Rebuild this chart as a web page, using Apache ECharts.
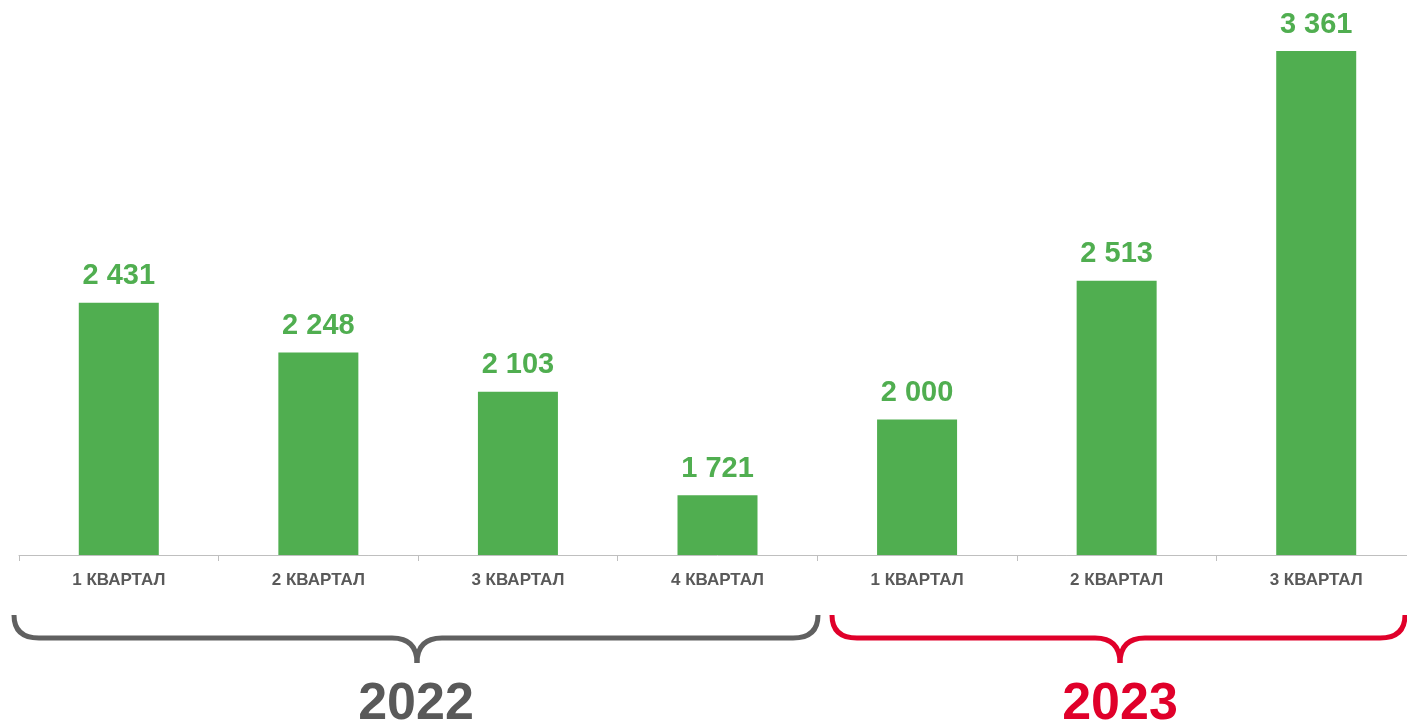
<!DOCTYPE html>
<html>
<head>
<meta charset="utf-8">
<script src="https://cdn.jsdelivr.net/npm/echarts@6/dist/echarts.min.js"></script>
<style>
  html, body { margin: 0; padding: 0; background: #fff; overflow: hidden; }
  #chart { width: 1416px; height: 725px; }
</style>
</head>
<body>
<div id="chart"></div>
<script>
// quarters, values per quarter
var categories = ['1 КВАРТАЛ', '2 КВАРТАЛ', '3 КВАРТАЛ', '4 КВАРТАЛ', '1 КВАРТАЛ', '2 КВАРТАЛ', '3 КВАРТАЛ'];
var values = [2431, 2248, 2103, 1721, 2000, 2513, 3361];
var years = ['2022', '2023'];

// the axis runs a little past the right edge of the window, so the chart is wider than the page
var chart = echarts.init(document.getElementById('chart'));

function fmt(v) {
    return String(v).replace(/\B(?=(\d{3})+(?!\d))/g, ' ');
}

// curly brace made of curves and lines
function brace(x0, xm, x1, color) {
    var yTop = 615, yMid = 638, yTip = 663, r = 25;
    var st = { stroke: color, lineWidth: 5, fill: null };
    return [
        { type: 'bezierCurve', shape: { x1: x0, y1: yTop, cpx1: x0, cpy1: yMid, x2: x0 + r, y2: yMid }, style: st },
        { type: 'line', shape: { x1: x0 + r, y1: yMid, x2: xm - r, y2: yMid }, style: st },
        { type: 'bezierCurve', shape: { x1: xm - r, y1: yMid, cpx1: xm, cpy1: yMid, x2: xm, y2: yTip }, style: st },
        { type: 'bezierCurve', shape: { x1: xm, y1: yTip, cpx1: xm, cpy1: yMid, x2: xm + r, y2: yMid }, style: st },
        { type: 'line', shape: { x1: xm + r, y1: yMid, x2: x1 - r, y2: yMid }, style: st },
        { type: 'bezierCurve', shape: { x1: x1 - r, y1: yMid, cpx1: x1, cpy1: yMid, x2: x1, y2: yTop }, style: st }
    ];
}

var graphics = brace(14, 417, 818, '#606060').concat(brace(832, 1120, 1405, '#e0002a'));
graphics.push({
    type: 'text',
    x: 416, y: 705,
    style: {
        text: years[0], fill: '#595959', align: 'center', verticalAlign: 'middle',
        font: 'bold 52px "Liberation Sans", Arial'
    }
});
graphics.push({
    type: 'text',
    x: 1120, y: 705,
    style: {
        text: years[1], fill: '#e0002a', align: 'center', verticalAlign: 'middle',
        font: 'bold 52px "Liberation Sans", Arial'
    }
});

var option = {
    animation: false,
    grid: {
        left: 19,
        right: 0,
        top: 51,
        bottom: 170
    },
    xAxis: {
        type: 'category',
        data: categories,
        axisLine: { lineStyle: { color: '#bfbfbf', width: 1 } },
        axisTick: { show: true, length: 6, lineStyle: { color: '#bfbfbf' } },
        axisLabel: {
            color: '#595959',
            fontFamily: 'Liberation Sans, Arial',
            fontWeight: 'bold',
            fontSize: 17,
            margin: 17
        }
    },
    yAxis: {
        type: 'value',
        min: 1500,
        max: 3361,
        show: false,
        splitLine: { show: false }
    },
    series: [
        {
            type: 'bar',
            data: values,
            barWidth: 80,
            itemStyle: { color: '#50ae50' },
            label: {
                show: true,
                position: 'top',
                distance: 12,
                color: '#50ae50',
                fontFamily: 'Liberation Sans, Arial',
                fontWeight: 'bold',
                fontSize: 29,
                formatter: function (p) { return fmt(p.value); }
            }
        }
    ],
    graphic: graphics
};
chart.setOption(option);
</script>
</body>
</html>
